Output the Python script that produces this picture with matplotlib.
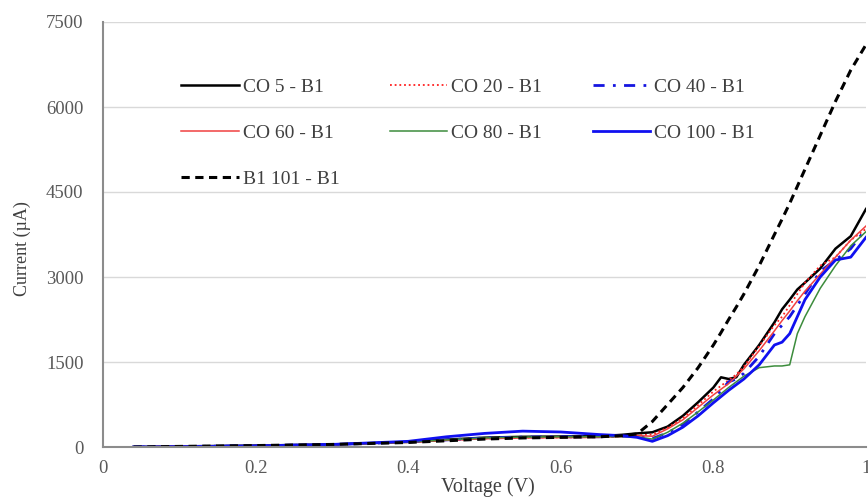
import numpy as np
import matplotlib
matplotlib.use("Agg")
import matplotlib.pyplot as plt

# donnees
voltage = [0.04, 0.1, 0.2, 0.3, 0.4, 0.45, 0.5, 0.55, 0.6, 0.65, 0.68, 0.7, 0.72, 0.74,
           0.76, 0.78, 0.80, 0.81, 0.82, 0.83, 0.84, 0.86, 0.88, 0.89, 0.90, 0.91, 0.92,
           0.94, 0.96, 0.98, 1.0]

co5 = [0, 10, 25, 45, 90, 130, 165, 180, 185, 190, 215, 240, 260, 360,
       550, 790, 1050, 1230, 1200, 1230, 1450, 1800, 2200, 2430, 2600, 2780, 2900,
       3150, 3500, 3720, 4200]
co20 = [0, 10, 22, 42, 85, 120, 150, 165, 170, 175, 190, 205, 220, 340,
        510, 740, 980, 1080, 1180, 1280, 1420, 1780, 2150, 2300, 2500, 2700, 2900,
        3200, 3350, 3650, 3850]
co40 = [0, 8, 22, 42, 88, 125, 160, 175, 180, 180, 190, 190, 150, 250,
        400, 620, 850, 1000, 1150, 1200, 1300, 1600, 2000, 2150, 2300, 2500, 2700,
        3100, 3300, 3500, 3850]
co60 = [0, 10, 22, 42, 85, 118, 145, 160, 165, 170, 185, 200, 190, 320,
        480, 700, 920, 1020, 1120, 1250, 1380, 1700, 2050, 2230, 2400, 2580, 2750,
        3050, 3350, 3650, 3900]
co80 = [0, 8, 22, 42, 88, 125, 160, 175, 180, 180, 185, 180, 140, 260,
        420, 620, 830, 940, 1050, 1150, 1250, 1400, 1430, 1430, 1450, 2000, 2300,
        2800, 3200, 3550, 3800]
co100 = [0, 5, 20, 45, 100, 180, 240, 280, 265, 220, 200, 170, 100, 200,
         350, 550, 780, 890, 1000, 1100, 1200, 1450, 1800, 1850, 2000, 2300, 2600,
         3000, 3300, 3350, 3700]
b1_101 = [0, 10, 25, 45, 80, 110, 140, 160, 170, 180, 200, 230, 450, 750,
          1050, 1400, 1800, 2020, 2250, 2470, 2700, 3200, 3750, 4020, 4300, 4600, 4900,
          5500, 6100, 6650, 7100]

plt.rcParams['font.family'] = ['Liberation Serif', 'DejaVu Serif']

fig = plt.figure(figsize=(8.68, 4.98), dpi=100)
ax = fig.add_axes([103 / 868, 51 / 498, 763 / 868, 425 / 498])

l5, = ax.plot(voltage, co5, color='black', lw=1.8, label='CO 5 - B1')
l20, = ax.plot(voltage, co20, color='#ff2020', lw=1.3, ls=(0, (1, 1.6)), label='CO 20 - B1')
l40, = ax.plot(voltage, co40, color='#1515e0', lw=2, ls=(0, (4, 3, 1, 3)), label='CO 40 - B1')
l60, = ax.plot(voltage, co60, color='#f04040', lw=1.1, label='CO 60 - B1')
l80, = ax.plot(voltage, co80, color='#3c8c3c', lw=1.1, label='CO 80 - B1')
l100, = ax.plot(voltage, co100, color='#1010f0', lw=2, label='CO 100 - B1')
l101, = ax.plot(voltage, b1_101, color='black', lw=2.2, ls=(0, (2.7, 1.8)), label='B1 101 - B1')

ax.set_xlim(0, 1)
ax.set_ylim(0, 7500)
ax.set_xticks([0, 0.2, 0.4, 0.6, 0.8, 1])
ax.set_xticklabels(['0', '0.2', '0.4', '0.6', '0.8', '1'])
ax.set_yticks(np.arange(0, 7501, 1500))
ax.grid(axis='y', color='#d9d9d9', lw=1)
ax.set_axisbelow(True)
for s in ['top', 'right']:
    ax.spines[s].set_visible(False)
for s in ['bottom', 'left']:
    ax.spines[s].set_color('#8c8c8c')
    ax.spines[s].set_linewidth(1.5)
ax.tick_params(length=0, labelsize=13.5, colors='#595959')
ax.tick_params(axis='x', pad=9)
ax.tick_params(axis='y', pad=14)

ax.set_xlabel('Voltage (V)', fontsize=14.5, color='#404040')
ax.xaxis.set_label_coords(0.504, -0.094)
ax.xaxis.label.set_va('center')
ax.set_ylabel('Current (\u00b5A)', fontsize=13, color='#404040')
ax.yaxis.set_label_coords(-0.106, 0.468)
ax.yaxis.label.set_va('center')

# ordre colonne par colonne pour avoir les lignes comme l'original
handles = [l5, l60, l101, l20, l80, l40, l100]
leg = ax.legend(handles=handles, labels=[h.get_label() for h in handles], ncol=3,
                loc='upper left', bbox_to_anchor=(0.09, 0.89), frameon=False,
                fontsize=14, handlelength=2.95, handletextpad=0.2,
                labelspacing=1.46, columnspacing=2.6, borderpad=0)
for t in leg.get_texts():
    t.set_color('#404040')

fig.savefig('out.png', dpi=100)
